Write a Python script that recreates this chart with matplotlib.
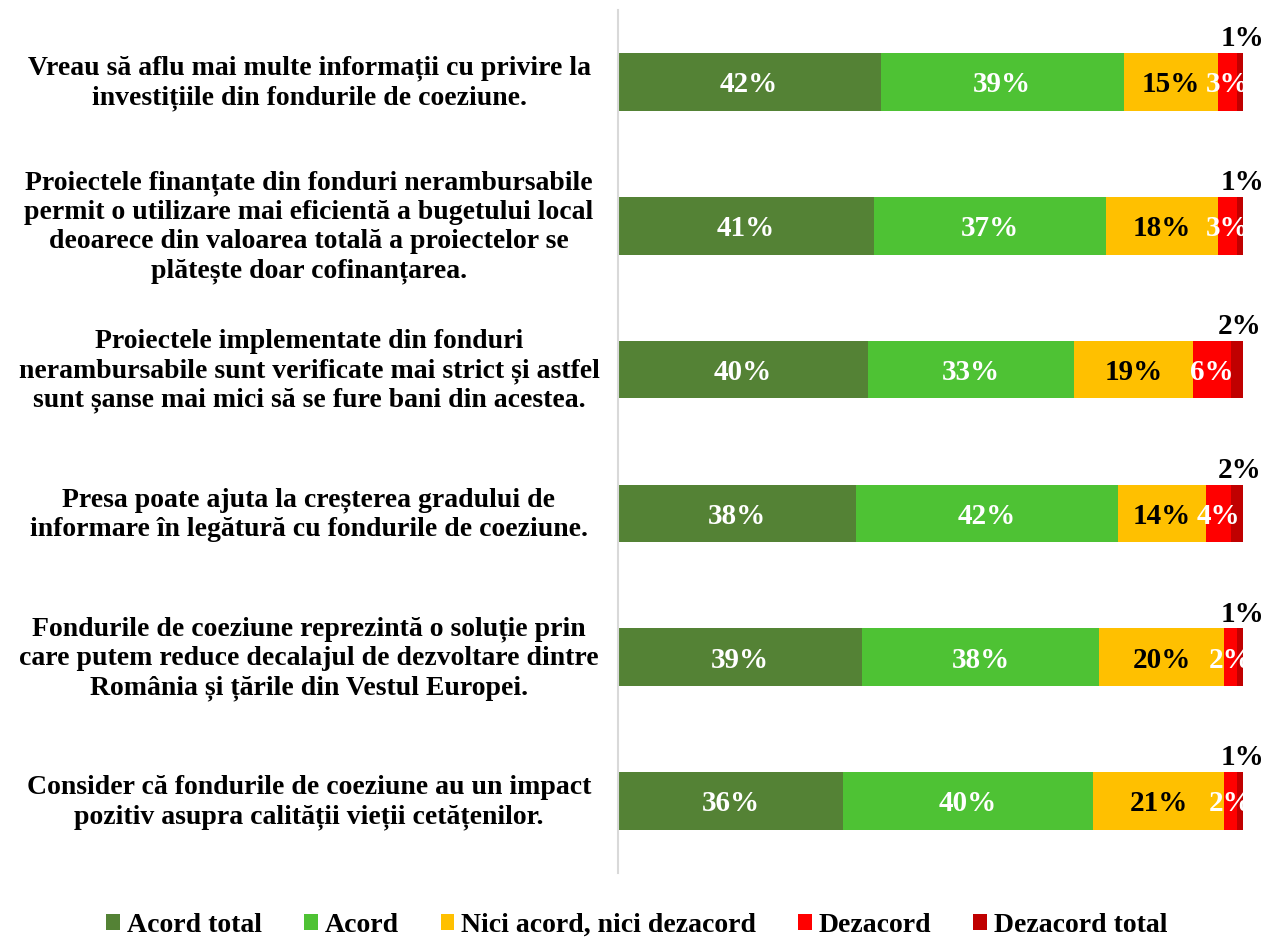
import numpy as np
import matplotlib.pyplot as plt
import matplotlib.transforms as mtransforms
from matplotlib.patches import Patch

plt.rcParams['font.family'] = ['Liberation Serif', 'DejaVu Serif']
fs = 20

categories = [
    'Vreau să aflu mai multe informații cu privire la\ninvestițiile din fondurile de coeziune.',
    'Proiectele finanțate din fonduri nerambursabile\npermit o utilizare mai eficientă a bugetului local\n'
    'deoarece din valoarea totală a proiectelor se\nplătește doar cofinanțarea.',
    'Proiectele implementate din fonduri\nnerambursabile sunt verificate mai strict și astfel\n'
    'sunt șanse mai mici să se fure bani din acestea.',
    'Presa poate ajuta la creșterea gradului de\ninformare în legătură cu fondurile de coeziune.',
    'Fondurile de coeziune reprezintă o soluție prin\ncare putem reduce decalajul de dezvoltare dintre\n'
    'România și țările din Vestul Europei.',
    'Consider că fondurile de coeziune au un impact\npozitiv asupra calității vieții cetățenilor.',
]

series = ['Acord total', 'Acord', 'Nici acord, nici dezacord', 'Dezacord', 'Dezacord total']
acord_total = [42, 41, 40, 38, 39, 36]
acord = [39, 37, 33, 42, 38, 40]
nici = [15, 18, 19, 14, 20, 21]
dezacord = [3, 3, 6, 4, 2, 2]
dezacord_total = [1, 1, 2, 2, 1, 1]

colors = ['#548235', '#4EC234', '#FFC000', '#FF0000', '#C00000']
label_colors = ['white', 'white', 'black', 'white', 'black']

values = [acord_total, acord, nici, dezacord, dezacord_total]

fig = plt.figure(figsize=(12.67, 9.38), dpi=100)
ax = fig.add_axes([618/1267, 1 - 873/938, 625/1267, 863/938])

y = np.arange(len(categories))
left = np.zeros(len(categories))
for i, (name, vals) in enumerate(zip(series, values)):
    vals = np.array(vals, dtype=float)
    ax.barh(y, vals, left=left, height=0.4, color=colors[i], label=name)
    for j, v in enumerate(vals):
        xc = left[j] + v / 2
        if i == 4:
            ax.text(xc + 0.4, y[j] - 0.30, '%d%%' % v, ha='center', va='center',
                    fontsize=21, fontweight='bold', color=label_colors[i])
        else:
            ax.text(xc, y[j] + 0.02, '%d%%' % v, ha='center', va='center',
                    fontsize=21, fontweight='bold', color=label_colors[i])
    left = left + vals

ax.set_xlim(0, 100)
ax.set_ylim(len(categories) - 0.5, -0.5)
ax.set_xticks([])
ax.set_yticks([])
for s in ['top', 'right', 'bottom']:
    ax.spines[s].set_visible(False)
ax.spines['left'].set_color('#d9d9d9')
ax.spines['left'].set_linewidth(1.5)

trans = mtransforms.blended_transform_factory(fig.transFigure, ax.transData)
for j, cat in enumerate(categories):
    ax.text(309/1267, y[j] + 0.01, cat, transform=trans, ha='center', va='center',
            fontsize=fs, fontweight='bold', linespacing=1.22, multialignment='center')

handles = [Patch(facecolor=c, label=s) for c, s in zip(colors, series)]
fig.legend(handles=handles, loc='center', bbox_to_anchor=(637/1267, 1 - 925/938), ncol=5,
           frameon=False, prop={'size': fs, 'weight': 'bold'}, handlelength=0.5,
           handleheight=0.5, handletextpad=0.25, columnspacing=1.5)

fig.savefig('out.png', dpi=100)
